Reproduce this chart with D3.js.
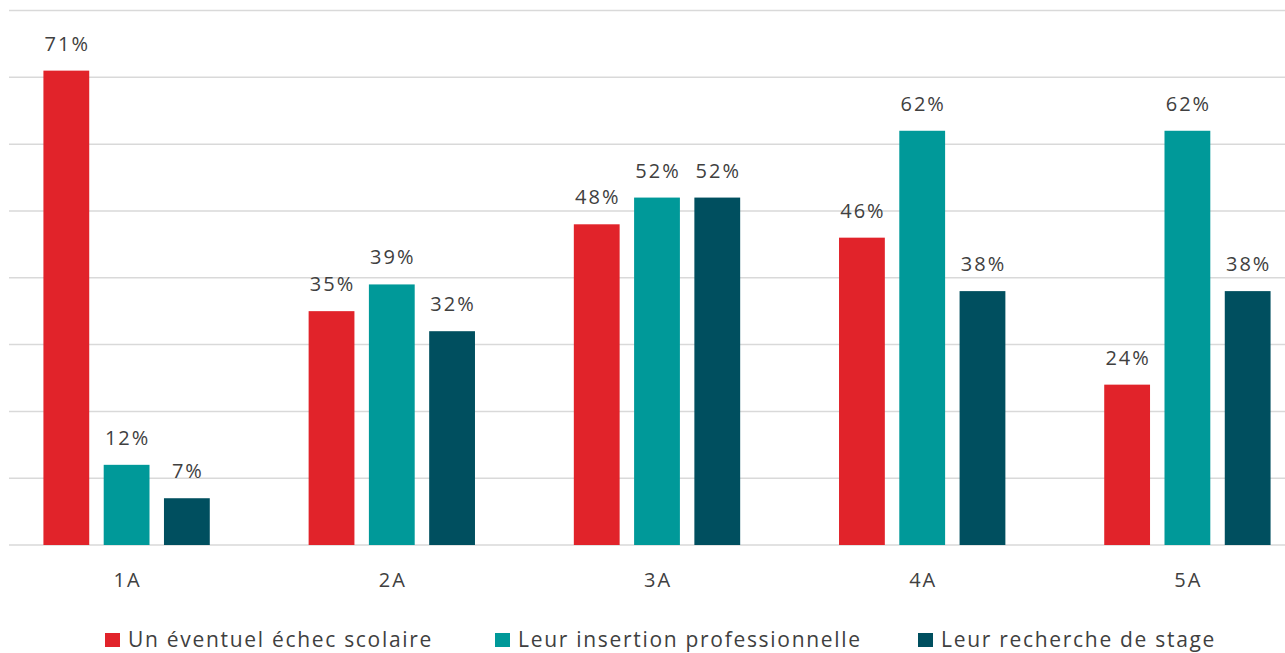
<!DOCTYPE html>
<html>
<head>
<meta charset="utf-8">
<script src="https://cdn.jsdelivr.net/npm/d3@7"></script>
<style>
  body { margin: 0; background: #fff; }
  svg { display: block; font-family: "Open Sans", "Noto Sans", sans-serif; }
</style>
</head>
<body>
<svg id="chart" width="1285" height="653"></svg>
<script>
// data
var categories = ["1A", "2A", "3A", "4A", "5A"];
var seriesNames = ["Un éventuel échec scolaire", "Leur insertion professionnelle", "Leur recherche de stage"];
var echec = [71, 35, 48, 46, 24];
var insertion = [12, 39, 52, 62, 62];
var stage = [7, 32, 52, 38, 38];
var gridTicks = [0, 10, 20, 30, 40, 50, 60, 70, 80];
var colors = ["#E1232A", "#009999", "#004F5F"];

var series = [echec, insertion, stage];

var svg = d3.select("#chart");
var W = 1285;

// scales
var x = d3.scaleBand().domain(categories).range([-6, 1320]).paddingInner(0).paddingOuter(0);
var xSub = d3.scaleBand().domain([0, 1, 2]).range([0, x.bandwidth()]).paddingInner(0.24).paddingOuter(0.82);
var y = d3.scaleLinear().domain([0, 80]).range([545, 10.5]);

// gridlines
svg.append("g").selectAll("line")
  .data(gridTicks)
  .enter().append("line")
  .attr("x1", 9).attr("x2", W)
  .attr("y1", function (d) { return y(d); })
  .attr("y2", function (d) { return y(d); })
  .attr("stroke", "#d9d9d9")
  .attr("stroke-width", 1.5);

// bars + labels
var groups = svg.append("g").selectAll("g")
  .data(categories)
  .enter().append("g")
  .attr("transform", function (d) { return "translate(" + x(d) + ",0)"; });

groups.each(function (cat, ci) {
  var g = d3.select(this);
  series.forEach(function (vals, si) {
    var v = vals[ci];
    g.append("rect")
      .attr("x", xSub(si))
      .attr("width", xSub.bandwidth())
      .attr("y", y(v))
      .attr("height", y(0) - y(v))
      .attr("fill", colors[si]);
    g.append("text")
      .attr("x", xSub(si) + xSub.bandwidth() / 2 + 1)
      .attr("y", y(v) - 20)
      .attr("text-anchor", "middle")
      .attr("font-size", 20)
      .attr("letter-spacing", 2)
      .attr("fill", "#404040")
      .text(v + "%");
  });
});

// category axis
var xAxis = svg.append("g").attr("transform", "translate(0,545)")
  .call(d3.axisBottom(x).tickSize(0).tickPadding(28));
xAxis.select(".domain").remove();
xAxis.selectAll("text")
  .attr("font-size", 20)
  .attr("letter-spacing", 2)
  .attr("dx", 1)
  .attr("font-family", "\"Open Sans\", \"Noto Sans\", sans-serif")
  .attr("fill", "#404040");

// legend
var legendX = [105, 495, 918];
var legend = svg.append("g").selectAll("g")
  .data(seriesNames)
  .enter().append("g")
  .attr("transform", function (d, i) { return "translate(" + legendX[i] + ",633)"; });
legend.append("rect")
  .attr("width", 15).attr("height", 14)
  .attr("fill", function (d, i) { return colors[i]; });
legend.append("text")
  .attr("x", 23).attr("y", 14)
  .attr("font-size", 21)
  .attr("letter-spacing", 1.7)
  .attr("fill", "#404040")
  .text(function (d) { return d; });
</script>
</body>
</html>
